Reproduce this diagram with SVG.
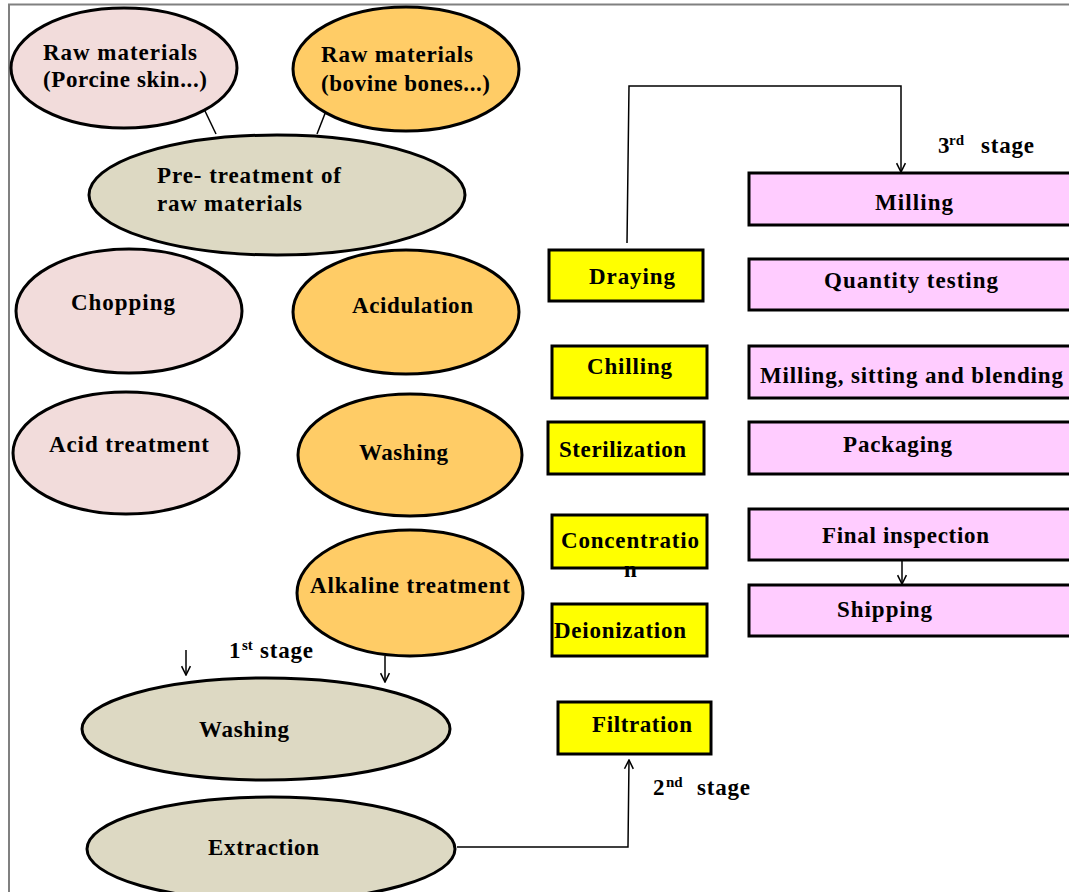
<svg xmlns="http://www.w3.org/2000/svg" width="1069" height="892" viewBox="0 0 1069 892">
<defs>
<marker id="arr" viewBox="0 0 10 10" refX="9" refY="5" markerWidth="11" markerHeight="11" markerUnits="userSpaceOnUse" orient="auto">
<path d="M1,1 L9,5 L1,9" fill="none" stroke="#000" stroke-width="1.4"/>
</marker>
</defs>
<style>
.t{font-family:"Liberation Serif","Times New Roman",serif;font-weight:bold;font-size:23px;fill:#000}
.sup{font-family:"Liberation Serif","Times New Roman",serif;font-weight:bold;font-size:15px;fill:#000}
.pk{fill:#F2DCDB;stroke:#000;stroke-width:3}
.or{fill:#FFCC66;stroke:#000;stroke-width:3}
.gr{fill:#DDD9C3;stroke:#000;stroke-width:3}
.yb{fill:#FFFF00;stroke:#000;stroke-width:3}
.mb{fill:#FFCCFF;stroke:#000;stroke-width:3}
.ln{fill:none;stroke:#000;stroke-width:1.5}
</style>
<rect width="1069" height="892" fill="#fff"/>
<path d="M8,4.5 L1069,4.5 M9,4 L9,892" fill="none" stroke="#808080" stroke-width="2"/>

<g id="connectors">
<path class="ln" d="M205,111 L216,134"/>
<path class="ln" d="M326,111 L317,134"/>
<path class="ln" d="M627,243 L629,86 L901,86 L901,172" marker-end="url(#arr)"/>
<path class="ln" d="M902,560 L902,584" marker-end="url(#arr)"/>
<path class="ln" d="M457,847 L628,847 L629,760" marker-end="url(#arr)"/>
<path class="ln" d="M186,650 L186,675" marker-end="url(#arr)"/>
<path class="ln" d="M385,656 L385,682" marker-end="url(#arr)"/>
</g>

<g id="raw-porcine"><ellipse class="pk" cx="124" cy="68" rx="113" ry="60"/>
<text class="t" x="43" y="60" textLength="154" lengthAdjust="spacing">Raw materials</text>
<text class="t" x="43" y="87" textLength="164" lengthAdjust="spacing">(Porcine skin...)</text></g>
<g id="raw-bovine"><ellipse class="or" cx="406" cy="69" rx="113" ry="62"/>
<text class="t" x="321" y="62" textLength="152" lengthAdjust="spacing">Raw materials</text>
<text class="t" x="321" y="91" textLength="169" lengthAdjust="spacing">(bovine bones...)</text></g>
<g id="pretreatment"><ellipse class="gr" cx="277" cy="195" rx="188" ry="60"/>
<text class="t" x="157" y="183" textLength="184" lengthAdjust="spacing">Pre- treatment of</text>
<text class="t" x="157" y="211" textLength="145" lengthAdjust="spacing">raw materials</text></g>
<g id="chopping"><ellipse class="pk" cx="129" cy="311" rx="113" ry="62"/>
<text class="t" x="71" y="310" textLength="104" lengthAdjust="spacing">Chopping</text></g>
<g id="acidulation"><ellipse class="or" cx="406" cy="312" rx="113" ry="62"/>
<text class="t" x="352" y="313" textLength="121" lengthAdjust="spacing">Acidulation</text></g>
<g id="acid-treatment"><ellipse class="pk" cx="126" cy="453" rx="113" ry="61"/>
<text class="t" x="49" y="452" textLength="160" lengthAdjust="spacing">Acid treatment</text></g>
<g id="washing-1"><ellipse class="or" cx="410" cy="455" rx="112" ry="61"/>
<text class="t" x="359" y="460" textLength="89" lengthAdjust="spacing">Washing</text></g>
<g id="alkaline"><ellipse class="or" cx="410" cy="593" rx="113" ry="63"/>
<text class="t" x="310" y="593" textLength="200" lengthAdjust="spacing">Alkaline treatment</text></g>
<g id="washing-2"><ellipse class="gr" cx="266" cy="729" rx="184" ry="51"/>
<text class="t" x="199" y="737" textLength="90" lengthAdjust="spacing">Washing</text></g>
<g id="extraction"><ellipse class="gr" cx="271" cy="849" rx="184" ry="52"/>
<text class="t" x="208" y="855" textLength="111" lengthAdjust="spacing">Extraction</text></g>

<g id="stage1"><text class="t" x="229" y="658">1</text><text class="sup" x="242" y="650">st</text><text class="t" x="260" y="658" textLength="53" lengthAdjust="spacing">stage</text></g>
<g id="stage2"><text class="t" x="653" y="795">2</text><text class="sup" x="666" y="787">nd</text><text class="t" x="697" y="795" textLength="53" lengthAdjust="spacing">stage</text></g>
<g id="stage3"><text class="t" x="938" y="153">3</text><text class="sup" x="949" y="145">rd</text><text class="t" x="981" y="153" textLength="53" lengthAdjust="spacing">stage</text></g>

<g id="draying"><rect class="yb" x="549" y="250" width="154" height="51"/>
<text class="t" x="589" y="284" textLength="86" lengthAdjust="spacing">Draying</text></g>
<g id="chilling"><rect class="yb" x="552" y="346" width="155" height="52"/>
<text class="t" x="587" y="374" textLength="85" lengthAdjust="spacing">Chilling</text></g>
<g id="sterilization"><rect class="yb" x="548" y="422" width="156" height="52"/>
<text class="t" x="559" y="457" textLength="127" lengthAdjust="spacing">Sterilization</text></g>
<g id="concentration"><rect class="yb" x="552" y="515" width="155" height="53"/>
<text class="t" x="561" y="548" textLength="138" lengthAdjust="spacing">Concentratio</text>
<text class="t" x="624" y="577">n</text></g>
<g id="deionization"><rect class="yb" x="552" y="604" width="155" height="52"/>
<text class="t" x="554" y="638" textLength="132" lengthAdjust="spacing">Deionization</text></g>
<g id="filtration"><rect class="yb" x="558" y="702" width="153" height="52"/>
<text class="t" x="592" y="732" textLength="100" lengthAdjust="spacing">Filtration</text></g>

<g id="milling"><rect class="mb" x="749" y="173" width="330" height="52"/>
<text class="t" x="875" y="210" textLength="78" lengthAdjust="spacing">Milling</text></g>
<g id="quantity"><rect class="mb" x="749" y="259" width="330" height="51"/>
<text class="t" x="824" y="288" textLength="174" lengthAdjust="spacing">Quantity testing</text></g>
<g id="blending"><rect class="mb" x="749" y="346" width="330" height="52"/>
<text class="t" x="760" y="383" textLength="303" lengthAdjust="spacing">Milling, sitting and blending</text></g>
<g id="packaging"><rect class="mb" x="749" y="422" width="330" height="52"/>
<text class="t" x="843" y="452" textLength="109" lengthAdjust="spacing">Packaging</text></g>
<g id="final-inspection"><rect class="mb" x="749" y="509" width="330" height="51"/>
<text class="t" x="822" y="543" textLength="167" lengthAdjust="spacing">Final inspection</text></g>
<g id="shipping"><rect class="mb" x="749" y="585" width="330" height="51"/>
<text class="t" x="837" y="617" textLength="95" lengthAdjust="spacing">Shipping</text></g>
</svg>
